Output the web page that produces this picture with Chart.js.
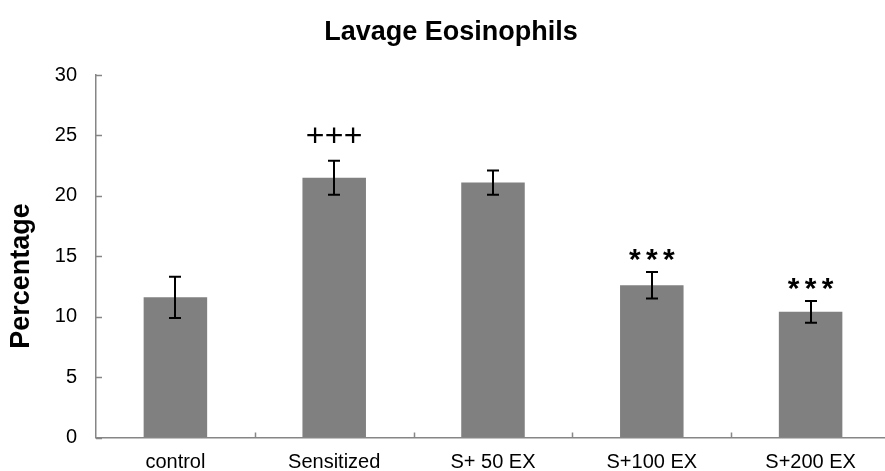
<!DOCTYPE html>
<html>
<head>
<meta charset="utf-8">
<script src="https://cdn.jsdelivr.net/npm/chart.js@4.4.0/dist/chart.umd.min.js"></script>
<style>
  html, body { margin: 0; padding: 0; background: #fff; overflow: hidden; }
  #wrap { width: 900px; height: 471px; }
</style>
</head>
<body>
<div id="wrap"><canvas id="myChart"></canvas></div>
<script>
var groups = ['control', 'Sensitized', 'S+ 50 EX', 'S+100 EX', 'S+200 EX'];
var eosinophils = [11.6, 21.5, 21.1, 12.6, 10.4];
var sem = [1.7, 1.4, 1.0, 1.1, 0.9];
var marks = ['', '+++', '', '***', '***'];
var yTicks = [0, 5, 10, 15, 20, 25, 30];

var FONT = '"Liberation Sans", Arial, sans-serif';

// error bars, inside tick marks, significance marks and titles
var extras = {
    id: 'extras',
    afterDatasetsDraw: function(chart) {
        var c = chart.ctx;
        var x = chart.scales.x, y = chart.scales.y;
        var area = chart.chartArea;
        var meta = chart.getDatasetMeta(0);

        c.save();
        // inside ticks
        c.strokeStyle = '#868686';
        c.lineWidth = 1.5;
        yTicks.forEach(function(v) {
            var py = Math.round(y.getPixelForValue(v)) + 0.5;
            c.beginPath(); c.moveTo(area.left, py); c.lineTo(area.left + 6, py); c.stroke();
        });
        for (var i = 1; i < groups.length; i++) {
            var px = Math.round((x.getPixelForValue(i - 1) + x.getPixelForValue(i)) / 2) + 0.5;
            c.beginPath(); c.moveTo(px, area.bottom); c.lineTo(px, area.bottom - 5); c.stroke();
        }

        // error bars
        c.strokeStyle = '#000';
        c.lineWidth = 2;
        meta.data.forEach(function(bar, i) {
            var top = y.getPixelForValue(eosinophils[i] + sem[i]);
            var bot = y.getPixelForValue(eosinophils[i] - sem[i]);
            var bx = Math.round(bar.x);
            c.beginPath();
            c.moveTo(bx, top); c.lineTo(bx, bot);
            c.moveTo(bx - 6, top); c.lineTo(bx + 6, top);
            c.moveTo(bx - 6, bot); c.lineTo(bx + 6, bot);
            c.stroke();
        });

        // significance marks
        c.fillStyle = '#000';
        c.textAlign = 'center';
        c.textBaseline = 'alphabetic';
        meta.data.forEach(function(bar, i) {
            var m = marks[i];
            if (!m) return;
            var top = y.getPixelForValue(eosinophils[i] + sem[i]);
            var isPlus = m.charAt(0) === '+';
            c.font = (isPlus ? '32px ' : 'bold 30px ') + FONT;
            var step = isPlus ? 19 : 17;
            var base = isPlus ? top - 15 : top - 3;
            for (var k = 0; k < m.length; k++) {
                c.fillText(m.charAt(k), bar.x + (k - (m.length - 1) / 2) * step, base);
            }
        });

        // titles
        c.textBaseline = 'middle';
        c.font = 'bold 27px ' + FONT;
        c.fillText('Lavage Eosinophils', 451, 33);
        c.translate(22, 276);
        c.rotate(-Math.PI / 2);
        c.fillText('Percentage', 0, 0);
        c.restore();
    }
};

var ctx = document.getElementById('myChart');

var myChart = new Chart(ctx, {
    type: 'bar',
    data: {
        labels: groups,
        datasets: [{
            label: 'Lavage Eosinophils',
            data: eosinophils,
            backgroundColor: '#808080',
            borderWidth: 0,
            barPercentage: 0.4,
            categoryPercentage: 1
        }]
    },
    options: {
        responsive: true,
        maintainAspectRatio: false,
        animation: false,
        layout: { padding: { left: 0, right: 10, top: 75, bottom: 0 } },
        plugins: {
            legend: { display: false },
            title: { display: false },
            tooltip: { enabled: false }
        },
        scales: {
            x: {
                grid: { display: true, drawOnChartArea: false, drawTicks: false },
                border: { display: true, color: '#868686', width: 1.5 },
                ticks: { color: '#000', font: { family: FONT, size: 20 }, padding: 13, maxRotation: 0 },
                afterFit: function(s) { s.height = 33.5; }
            },
            y: {
                min: 0,
                max: 30,
                grid: { display: true, drawOnChartArea: false, drawTicks: false },
                border: { display: true, color: '#868686', width: 1.5 },
                ticks: { color: '#000', font: { family: FONT, size: 20 }, stepSize: 5, padding: 19 },
                afterFit: function(s) { s.width = 96; }
            }
        }
    },
    plugins: [extras]
});
</script>
</body>
</html>
